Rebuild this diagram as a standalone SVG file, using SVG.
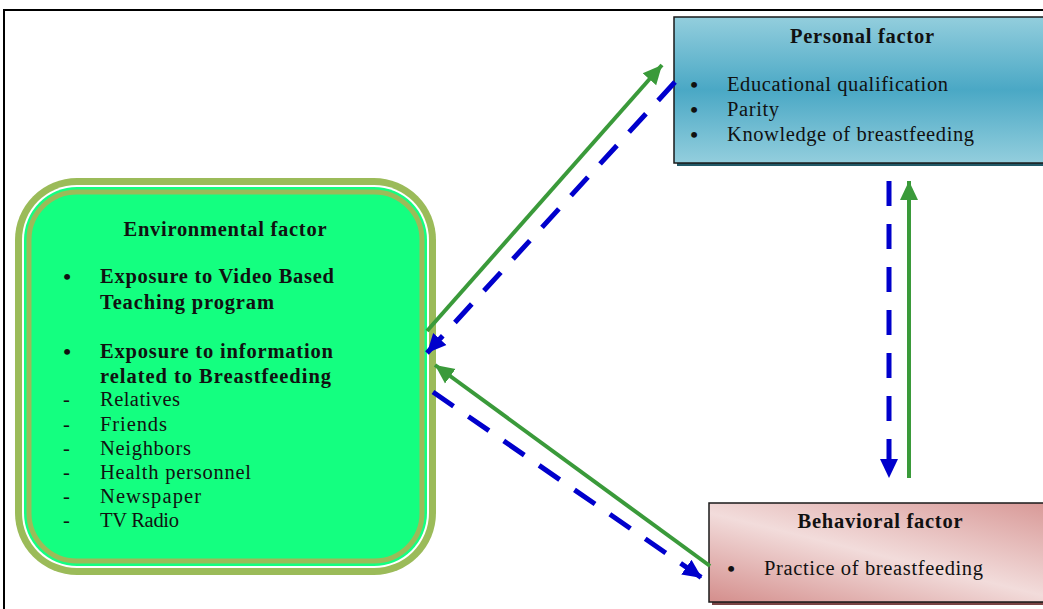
<svg xmlns="http://www.w3.org/2000/svg" width="1043" height="609" viewBox="0 0 1043 609">
<style>
  text { font-family: "Liberation Serif", "DejaVu Serif", serif; font-size: 20.5px; fill: #111; }
  .b { font-weight: bold; }
  .t { font-weight: bold; text-anchor: middle; }
  .bl { font-size: 22px; font-weight: bold; text-anchor: middle; }
  .g { stroke: #3A9A3A; stroke-width: 4; fill: none; }
  .d { stroke: #0000CC; stroke-width: 5; fill: none; stroke-dasharray: 25 18; }
</style>
<defs>
  <linearGradient id="blueGrad" x1="0" y1="0" x2="0" y2="1">
    <stop offset="0" stop-color="#93CEDD"/>
    <stop offset="0.5" stop-color="#4AA8C5"/>
    <stop offset="1" stop-color="#93CEDD"/>
  </linearGradient>
  <linearGradient id="pinkGrad" x1="0" y1="1" x2="1" y2="0">
    <stop offset="0" stop-color="#D48E8C"/>
    <stop offset="0.45" stop-color="#F2DCDB"/>
    <stop offset="1" stop-color="#D48E8C"/>
  </linearGradient>
  <marker id="ag" markerUnits="userSpaceOnUse" markerWidth="22" markerHeight="22" viewBox="0 0 22 22" refX="19" refY="11" orient="auto">
    <path d="M0,2 L19,11 L0,20 z" fill="#3A9A3A"/>
  </marker>
  <marker id="ab" markerUnits="userSpaceOnUse" markerWidth="22" markerHeight="22" viewBox="0 0 22 22" refX="19" refY="11" orient="auto">
    <path d="M0,2 L19,11 L0,20 z" fill="#0000CC"/>
  </marker>
</defs>
<rect x="0" y="0" width="1043" height="609" fill="#fff"/>
<rect x="4" y="10" width="1100" height="700" fill="none" stroke="#000" stroke-width="2"/>

<g id="env">
  <rect x="15" y="178" width="421" height="397" rx="62" fill="#9BBB59"/>
  <rect x="22" y="185" width="407" height="383" rx="55" fill="#fff"/>
  <rect x="24" y="187" width="403" height="379" rx="53" fill="#14FF80"/>
  <rect x="29" y="192" width="393" height="369" rx="48" fill="#14FF80" stroke="#9BBB59" stroke-width="5"/>
  <text class="t" x="225" y="236" textLength="203">Environmental factor</text>
  <text class="bl" x="67" y="284">•</text>
  <text class="b" x="100" y="283" textLength="234">Exposure to Video Based</text>
  <text class="b" x="100" y="309" textLength="174">Teaching program</text>
  <text class="bl" x="67" y="359">•</text>
  <text class="b" x="100" y="358" textLength="233">Exposure to information</text>
  <text class="b" x="100" y="383" textLength="231">related to Breastfeeding</text>
  <text x="63" y="406">-</text><text x="100" y="406" textLength="80">Relatives</text>
  <text x="63" y="431">-</text><text x="100" y="431" textLength="67">Friends</text>
  <text x="63" y="455">-</text><text x="100" y="455" textLength="91">Neighbors</text>
  <text x="63" y="479">-</text><text x="100" y="479" textLength="151">Health personnel</text>
  <text x="63" y="503">-</text><text x="100" y="503" textLength="101">Newspaper</text>
  <text x="63" y="527">-</text><text x="100" y="527" textLength="79">TV Radio</text>
</g>

<g id="personal">
  <rect x="677" y="20" width="400" height="146" fill="#215968"/>
  <rect x="674" y="17" width="400" height="146" fill="url(#blueGrad)" stroke="#1a1a1a" stroke-width="1.5"/>
  <text class="t" x="862" y="43" textLength="144">Personal factor</text>
  <text class="bl" x="694" y="92">•</text><text x="727" y="91" textLength="221">Educational qualification</text>
  <text class="bl" x="694" y="117">•</text><text x="727" y="116" textLength="52">Parity</text>
  <text class="bl" x="694" y="142">•</text><text x="727" y="141" textLength="247">Knowledge of breastfeeding</text>
</g>

<g id="behavioral">
  <rect x="712" y="506" width="400" height="99" fill="#7a4444"/>
  <rect x="709" y="503" width="400" height="99" fill="url(#pinkGrad)" stroke="#1a1a1a" stroke-width="1.5"/>
  <text class="t" x="880" y="528" textLength="165">Behavioral factor</text>
  <text class="bl" x="731" y="576">•</text><text x="764" y="575" textLength="219">Practice of breastfeeding</text>
</g>

<g id="connectors">
  <line class="g" x1="427" y1="331" x2="662" y2="65" marker-end="url(#ag)"/>
  <line class="d" x1="675" y1="82" x2="427" y2="353" marker-end="url(#ab)"/>
  <line class="g" x1="710" y1="566" x2="435" y2="365" marker-end="url(#ag)"/>
  <line class="d" x1="433" y1="392" x2="702" y2="578" marker-end="url(#ab)"/>
  <line class="d" x1="889" y1="181" x2="889" y2="478" stroke-dasharray="27 20" marker-end="url(#ab)"/>
  <line class="g" x1="909" y1="478" x2="909" y2="181" marker-end="url(#ag)"/>
</g>
</svg>
